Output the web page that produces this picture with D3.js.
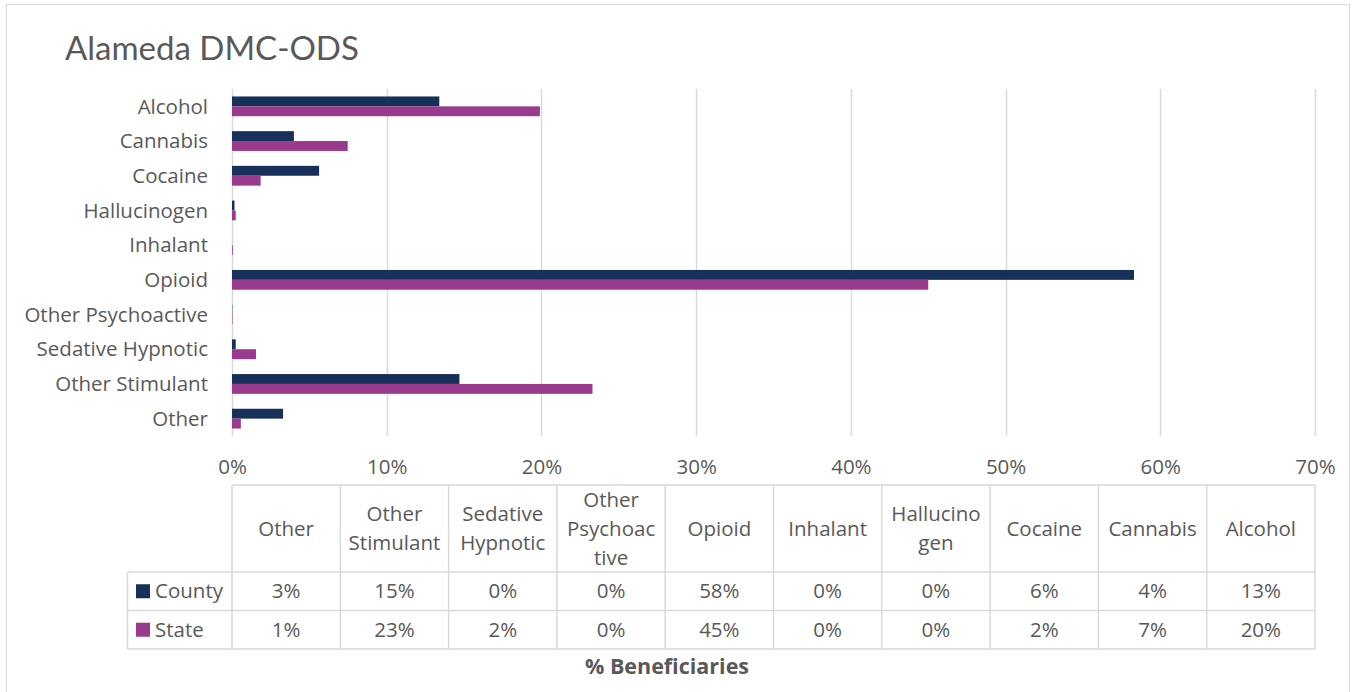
<!DOCTYPE html>
<html>
<head>
<meta charset="utf-8">
<script src="https://cdn.jsdelivr.net/npm/d3@7"></script>
<style>
  html, body { margin: 0; padding: 0; background: #fff; }
  svg { display: block; font-family: "Open Sans", Lato, sans-serif; }
</style>
</head>
<body>
<svg id="chart" width="1354" height="692"></svg>
<script>
// ---- data (table order; bar chart shows it reversed) ----
const categories = ["Other", "Other Stimulant", "Sedative Hypnotic", "Other Psychoactive", "Opioid", "Inhalant", "Hallucinogen", "Cocaine", "Cannabis", "Alcohol"];
const headerLines = [["Other"], ["Other", "Stimulant"], ["Sedative", "Hypnotic"], ["Other", "Psychoac", "tive"], ["Opioid"], ["Inhalant"], ["Hallucino", "gen"], ["Cocaine"], ["Cannabis"], ["Alcohol"]];
const countyValues = [3.3, 14.7, 0.24, 0.02, 58.3, 0.0, 0.16, 5.63, 4.0, 13.4];
const stateValues  = [0.57, 23.3, 1.55, 0.03, 45.0, 0.05, 0.24, 1.85, 7.48, 19.9];
const seriesNames = ["County", "State"];
const xTicks = [0, 10, 20, 30, 40, 50, 60, 70];
const title = "Alameda DMC-ODS";
const axisTitle = "% Beneficiaries";

const colors = { County: "#17305A", State: "#9A3A8C" };
const textColor = "#595959";
const gridColor = "#D9D9D9";
const FONT = "'Open Sans', sans-serif";
const FS = 20.5;

const svg = d3.select("#chart");

// chart border
svg.append("rect").attr("x", 6.5).attr("y", 4.5).attr("width", 1343).attr("height", 700)
  .attr("fill", "#fff").attr("stroke", gridColor).attr("stroke-width", 1);

// title
svg.append("text").attr("x", 65).attr("y", 60).attr("fill", textColor)
  .attr("font-family", "Lato, sans-serif").attr("font-size", 33).text(title);

const plot = { left: 232, right: 1315, top: 89, bottom: 436 };

const x = d3.scaleLinear().domain([0, 70]).range([plot.left, plot.right]);
const barOrder = categories.slice().reverse();
const y = d3.scaleBand().domain(barOrder).range([plot.top, plot.bottom]).paddingInner(0.43).paddingOuter(0.215);
const ySub = d3.scaleBand().domain(seriesNames).range([0, y.bandwidth()]);

// gridlines
svg.append("g").selectAll("line").data(xTicks).join("line")
  .attr("x1", d => Math.round(x(d)) + 0.5).attr("x2", d => Math.round(x(d)) + 0.5)
  .attr("y1", plot.top).attr("y2", plot.bottom)
  .attr("stroke", gridColor).attr("stroke-width", 1.5);

// x tick labels
const xAxis = d3.axisBottom(x).tickValues(xTicks).tickFormat(d => d + "%").tickSize(0).tickPadding(0);
const xg = svg.append("g").attr("transform", `translate(0,${plot.bottom + 31})`).call(xAxis);
xg.select(".domain").remove();
xg.selectAll("text").attr("fill", textColor).attr("font-size", FS).attr("font-family", FONT).attr("y", 0).attr("dy", "0.35em");

// category labels
const yAxis = d3.axisLeft(y).tickSize(0).tickPadding(0);
const yg = svg.append("g").attr("transform", `translate(${plot.left - 24},0)`).call(yAxis);
yg.select(".domain").remove();
yg.selectAll("text").attr("fill", textColor).attr("font-size", FS).attr("font-family", FONT).attr("dy", "0.35em");

// bars
const rows = categories.map((c, i) => ({ cat: c, County: countyValues[i], State: stateValues[i] }));
const groups = svg.append("g").selectAll("g").data(rows).join("g")
  .attr("transform", d => `translate(0,${y(d.cat)})`);
groups.selectAll("rect").data(d => seriesNames.map(s => ({ s, v: d[s] }))).join("rect")
  .attr("x", x(0)).attr("y", d => ySub(d.s)).attr("height", ySub.bandwidth())
  .attr("width", d => Math.max(0, x(d.v) - x(0)))
  .attr("fill", d => colors[d.s]);

// data table
const tbl = { left: 127.5, top: 485, headerBottom: 572, rowH: 38.5 };
const colX = categories.map((c, i) => plot.left + (plot.right - plot.left) * i / categories.length);
const colW = (plot.right - plot.left) / categories.length;
const tg = svg.append("g").attr("font-family", FONT);
const line = (x1, y1, x2, y2) => tg.append("line").attr("x1", x1).attr("y1", y1).attr("x2", x2).attr("y2", y2)
  .attr("stroke", gridColor).attr("stroke-width", 1.5);
const rowsBottom = tbl.headerBottom + tbl.rowH * seriesNames.length;
line(plot.left, tbl.top, plot.right, tbl.top);
line(tbl.left, tbl.headerBottom, plot.right, tbl.headerBottom);
seriesNames.forEach((s, i) => line(tbl.left, tbl.headerBottom + tbl.rowH * (i + 1), plot.right, tbl.headerBottom + tbl.rowH * (i + 1)));
line(tbl.left, tbl.headerBottom, tbl.left, rowsBottom);
colX.concat([plot.right]).forEach(cx => line(cx, tbl.top, cx, rowsBottom));

// headers
const headerMid = (tbl.top + tbl.headerBottom) / 2;
const lh = 29;
categories.forEach((c, i) => {
  const lines = headerLines[i];
  const t = tg.append("text").attr("text-anchor", "middle").attr("fill", textColor).attr("font-size", FS);
  lines.forEach((ln, k) => {
    t.append("tspan").attr("x", colX[i] + colW / 2)
      .attr("y", headerMid + (k - (lines.length - 1) / 2) * lh).attr("dy", "0.35em").text(ln);
  });
});

// value rows
const fmt = v => Math.round(v) + "%";
seriesNames.forEach((s, r) => {
  const cy = tbl.headerBottom + tbl.rowH * (r + 0.5);
  const vals = s === "County" ? countyValues : stateValues;
  vals.forEach((v, i) => {
    tg.append("text").attr("x", colX[i] + colW / 2).attr("y", cy).attr("dy", "0.35em")
      .attr("text-anchor", "middle").attr("fill", textColor).attr("font-size", FS).text(fmt(v));
  });
  tg.append("rect").attr("x", 136).attr("y", cy - 7).attr("width", 14).attr("height", 14).attr("fill", colors[s]);
  tg.append("text").attr("x", 155).attr("y", cy).attr("dy", "0.35em")
    .attr("fill", textColor).attr("font-size", FS).text(s);
});

// axis title
svg.append("text").attr("x", 667).attr("y", 666).attr("dy", "0.35em").attr("text-anchor", "middle")
  .attr("font-family", FONT).attr("fill", textColor).attr("font-size", 21.5).attr("font-weight", "bold").text(axisTitle);
</script>
</body>
</html>
